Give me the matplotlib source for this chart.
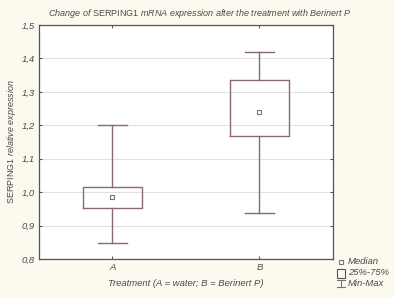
import matplotlib.pyplot as plt
from matplotlib.patches import Rectangle
from matplotlib.lines import Line2D

# box data
groups = ['A', 'B']
mins = [0.848, 0.938]
q1 = [0.953, 1.168]
medians = [0.986, 1.241]
q3 = [1.016, 1.334]
maxs = [1.200, 1.418]
yticks = [0.8, 0.9, 1.0, 1.1, 1.2, 1.3, 1.4, 1.5]

plt.rcParams['font.family'] = 'Liberation Sans'
plt.rcParams['mathtext.fontset'] = 'custom'
plt.rcParams['mathtext.rm'] = 'Liberation Sans'
plt.rcParams['mathtext.it'] = 'Liberation Sans:italic'

txt = '#4a4a4a'
boxc = '#8a6a6e'

fig = plt.figure(figsize=(3.95, 2.97), dpi=100, facecolor='#fcf9ee')
ax = fig.add_axes([0.0987, 0.128, 0.744, 0.788])

stats = []
for i in range(len(groups)):
    stats.append({'whislo': mins[i], 'q1': q1[i], 'med': medians[i],
                  'q3': q3[i], 'whishi': maxs[i], 'label': groups[i]})

ax.bxp(stats, positions=range(len(groups)), widths=0.4, capwidths=0.2,
       showfliers=False,
       boxprops=dict(color=boxc, linewidth=1.0),
       whiskerprops=dict(color=boxc, linewidth=1.0),
       capprops=dict(color=boxc, linewidth=1.0),
       medianprops=dict(linewidth=0))
ax.plot(range(len(groups)), medians, 's', ms=3, mfc='white', mec=boxc, mew=0.8, ls='none')

ax.set_xlim(-0.5, 1.5)
ax.set_ylim(0.8, 1.5)
ax.set_yticks(yticks)
ax.set_yticklabels([f'{v:.1f}'.replace('.', ',') for v in yticks], fontstyle='italic')
ax.set_xticks(range(len(groups)))
ax.set_xticklabels(groups, fontstyle='italic')
ax.tick_params(direction='in', length=2.5, labelsize=6.8, labelcolor=txt, color='#555555',
               top=True, right=True, pad=3)
ax.yaxis.grid(True, color='#e0e0e0', linewidth=0.8)
ax.set_axisbelow(True)
for s in ax.spines.values():
    s.set_color('#555555')
    s.set_linewidth(0.9)

fig.text(0.506, 1 - 13 / 297,
         r'$\mathit{Change\ of}$ SERPING1 $\mathit{mRNA\ expression\ after\ the\ treatment\ with\ Berinert\ P}$',
         fontsize=6.5, color=txt, ha='center', va='center')
ax.set_ylabel(r'SERPING1 $\mathit{relative\ expression}$', fontsize=6.5, color=txt, labelpad=3)
ax.set_xlabel('Treatment (A = water; B = Berinert P)', fontsize=6.8, color=txt,
              fontstyle='italic', labelpad=5)

# legend drawn by hand at lower right
W, H = 395, 297
def fx(x):
    return x / W
def fy(y):
    return 1 - y / H

fig.add_artist(Line2D([fx(341)], [fy(262)], marker='s', ms=2.8, mfc='white', mec=boxc,
                      mew=0.8, ls='none', transform=fig.transFigure))
fig.add_artist(Rectangle((fx(337), fy(277.5)), 8 / W, 8.5 / H, fill=False, ec='#555555',
                         lw=0.8, transform=fig.transFigure))
fig.add_artist(Line2D([fx(341), fx(341)], [fy(280), fy(286.5)], color=boxc, lw=0.8,
                      transform=fig.transFigure))
fig.add_artist(Line2D([fx(337), fx(345)], [fy(280), fy(280)], color=boxc, lw=0.8,
                      transform=fig.transFigure))
fig.add_artist(Line2D([fx(337), fx(345)], [fy(286.5), fy(286.5)], color=boxc, lw=0.8,
                      transform=fig.transFigure))
for label, y in [('Median', 262), ('25%-75%', 272.5), ('Min-Max', 283)]:
    fig.text(fx(348), fy(y), label, fontsize=6.8, color=txt, fontstyle='italic', va='center')

fig.savefig('out.png', dpi=100, facecolor=fig.get_facecolor())
